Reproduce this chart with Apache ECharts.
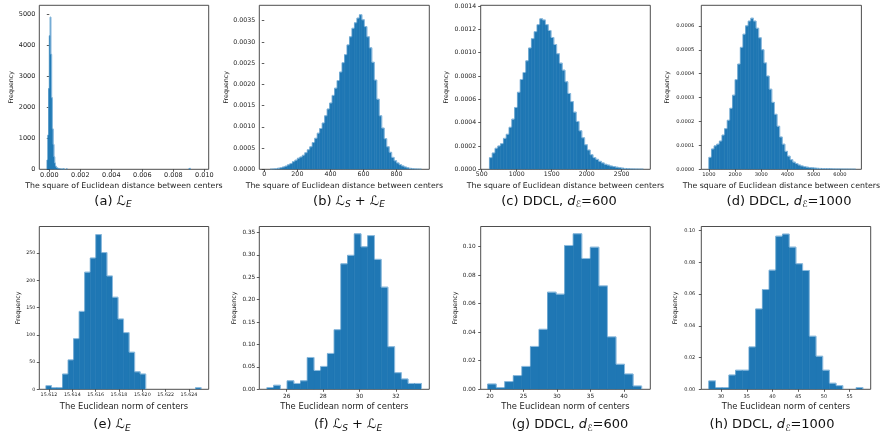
<!DOCTYPE html>
<html><head><meta charset="utf-8">
<script src="https://cdn.jsdelivr.net/npm/echarts@6/dist/echarts.min.js"></script>
<style>html,body{margin:0;padding:0;background:#fff}#c{width:882px;height:441px}</style>
</head><body><div id="c"></div>
<script>
// ---------- DATA ----------
// (a) L_E : squared distance between centers, counts
const aStart = -0.00015, aWidth = 0.00005;
const aCounts = [300,1100,2600,4300,4900,3700,2300,1300,800,400,200,100,60,40,30,20,15,10,8,6,5,4,3];
const aOutliers = [[0.00090,0.00095,15],[0.00110,0.00115,20],[0.00900,0.00905,20],[0.00905,0.00910,30]];
const aXTicks = [0,0.002,0.004,0.006,0.008,0.010];
const aYTicks = [0,1000,2000,3000,4000,5000];

// (b) L_S + L_E : density (x1e-4)
const bStart = 20, bWidth = 15;
const bDensityE4 = [0.0,0.01,0.05,0.15,0.25,0.38,0.55,0.75,1.05,1.35,1.8,2.15,2.6,2.9,3.3,3.9,4.6,5.3,6.3,7.3,8.5,9.6,10.9,12.6,14.2,15.6,17.4,19.1,20.9,22.9,25.1,27.0,29.3,31.2,33.2,34.5,35.6,36.4,35.2,33.6,31.2,28.6,25.2,21.0,16.5,12.6,9.7,7.2,5.3,4.0,2.8,2.0,1.5,1.1,0.8,0.55,0.35,0.22,0.12,0.06,0.03,0.01];
const bXTicks = [0,200,400,600,800];
const bYTicks = [0,0.0005,0.0010,0.0015,0.0020,0.0025,0.0030,0.0035];

// (c) DDCL d=600 : density (x1e-4)
const cStart = 610, cWidth = 40;
const cDensityE4 = [1.0,1.4,1.8,2.0,2.2,2.65,3.0,3.6,4.3,5.3,6.6,7.7,8.3,9.3,10.4,11.2,11.8,12.4,12.9,12.8,12.4,11.9,11.3,10.7,9.9,9.1,8.5,7.5,6.5,5.8,4.9,4.1,3.3,2.7,2.1,1.65,1.25,1.0,0.85,0.68,0.55,0.43,0.36,0.28,0.23,0.18,0.14,0.1,0.07,0.05,0.03,0.02,0.01,0.005,0.005];
const cXTicks = [500,1000,1500,2000,2500];
const cYTicks = [0,0.0002,0.0004,0.0006,0.0008,0.0010,0.0012,0.0014];

// (d) DDCL d=1000 : density (x1e-4)
const dStart = 1000, dWidth = 100;
const dDensityE4 = [0.5,0.85,0.98,1.05,1.18,1.43,1.7,2.05,2.55,3.1,3.75,4.4,5.1,5.65,6.0,6.2,6.32,6.2,5.9,5.5,5.0,4.45,3.9,3.35,2.8,2.3,1.8,1.35,1.05,0.75,0.55,0.4,0.3,0.24,0.18,0.14,0.11,0.09,0.07,0.06,0.05,0.04,0.035,0.03,0.025,0.02,0.02,0.015,0.01,0.01,0.008,0.006,0.004,0.003,0.002,0.001];
const dXTicks = [1000,2000,3000,4000,5000,6000];
const dYTicks = [0,0.0001,0.0002,0.0003,0.0004,0.0005,0.0006];

// (e) L_E : Euclidean norm, counts
const eStart = 15.61174, eWidth = 0.000475;
const eCounts = [6.7,3,3,28,54,93,143,215,241,284,251,208,169,129,104,68,32,28,0,0,0,0,0,0,0,0,0,3];
const eXTicks = [15.612,15.614,15.616,15.618,15.620,15.622,15.624];
const eYTicks = [0,50,100,150,200,250];

// (f) L_S + L_E : Euclidean norm, density
const fStart = 24.92, fWidth = 0.3687;
const fDensity = [0.004,0.009,0,0.019,0.013,0.019,0.071,0.042,0.051,0.080,0.133,0.280,0.299,0.347,0.318,0.343,0.290,0.228,0.095,0.037,0.023,0.013,0.013];
const fXTicks = [26,28,30,32];
const fYTicks = [0,0.05,0.10,0.15,0.20,0.25,0.30,0.35];

// (g) DDCL d=600 : Euclidean norm, density
const gStart = 19.65, gWidth = 1.277;
const gDensity = [0.0037,0.0012,0.0054,0.0096,0.016,0.030,0.042,0.068,0.0666,0.1007,0.1089,0.0916,0.0995,0.0724,0.0367,0.0175,0.0107,0.0023];
const gXTicks = [20,25,30,35,40];
const gYTicks = [0,0.02,0.04,0.06,0.08,0.10];

// (h) DDCL d=1000 : Euclidean norm, density
const hStart = 27.61, hWidth = 1.303;
const hDensity = [0.0053,0.0011,0.0011,0.009,0.012,0.012,0.0267,0.0506,0.0628,0.075,0.0964,0.0977,0.0895,0.079,0.0748,0.0334,0.0208,0.012,0.0038,0.0023,0,0,0.0011];
const hXTicks = [30,35,40,45,50,55];
const hYTicks = [0,0.02,0.04,0.06,0.08,0.10];

const topXName = 'The square of Euclidean distance between centers';
const botXName = 'The Euclidean norm of centers';
const yName = 'Frequency';

// ---------- BUILD ----------
function bins(start, width, vals, scale) {
  scale = scale || 1;
  return vals.map((v, i) => [start + i * width, start + (i + 1) * width, v * scale]);
}
const FONT = 'DejaVu Sans';
const BAR = '#1f77b4', EDGE = '#9fc7e6';
const panels = [
  {g:[39.3,5.3,169.4,164], x:[-0.000645,0.01028], yMax:5280, xt:aXTicks, yt:aYTicks, xd:3, yd:0, xn:topXName, data:bins(aStart,aWidth,aCounts).concat(aOutliers), tf:6.5, xng:12.5, yng:25, xm:2.5, ym:4},
  {g:[259.3,5.3,170,164], x:[-30.2,997.6], yMax:0.003862, xt:bXTicks, yt:bYTicks, xd:0, yd:4, xn:topXName, data:bins(bStart,bWidth,bDensityE4,1e-4), tf:6.3, xng:12.5, yng:30, xm:2.5, ym:4},
  {g:[480.7,5.3,169.6,164], x:[485,2909], yMax:0.001406, xt:cXTicks, yt:cYTicks, xd:0, yd:4, xn:topXName, data:bins(cStart,cWidth,cDensityE4,1e-4), tf:6.2, xng:12.5, yng:31.5, xm:2.5, ym:4.5},
  {g:[701.3,5.3,169.4,164], x:[711,6818], yMax:0.000686, xt:dXTicks, yt:dYTicks, xd:0, yd:4, xn:topXName, data:bins(dStart,dWidth,dDensityE4,1e-4), tf:5.2, xng:12.5, yng:31, xm:2.5, ym:7},
  {g:[39.3,226.5,169.4,162.8], x:[15.61117,15.62569], yMax:298.9, xt:eXTicks, yt:eYTicks, xd:3, yd:0, xn:botXName, data:bins(eStart,eWidth,eCounts), tf:4.8, xng:13.5, yng:18, xm:3, ym:4},
  {g:[259.3,226.5,170,162.8], x:[24.50,33.83], yMax:0.3634, xt:fXTicks, yt:fYTicks, xd:0, yd:2, xn:botXName, data:bins(fStart,fWidth,fDensity), tf:5.8, xng:13.5, yng:22, xm:4, ym:4},
  {g:[480.7,226.5,169.6,162.8], x:[18.61,43.93], yMax:0.114, xt:gXTicks, yt:gYTicks, xd:0, yd:2, xn:botXName, data:bins(gStart,gWidth,gDensity), tf:5.8, xng:13.5, yng:22.5, xm:4.5, ym:5},
  {g:[701.3,226.5,169.4,162.8], x:[26.15,59.1], yMax:0.1025, xt:hXTicks, yt:hYTicks, xd:0, yd:2, xn:botXName, data:bins(hStart,hWidth,hDensity), tf:5.0, xng:13.5, yng:23, xm:4.5, ym:6}
];

const captions = [
  {x:113, y:201.5, t:'(a) {L|ℒ}{s|E}'},
  {x:349, y:201.5, t:'(b) {L|ℒ}{s|S} + {L|ℒ}{s|E}'},
  {x:559, y:201.5, t:'(c) DDCL, {i|d}{s|ℰ}=600'},
  {x:789, y:201.5, t:'(d) DDCL, {i|d}{s|ℰ}=1000'},
  {x:112, y:425, t:'(e) {L|ℒ}{s|E}'},
  {x:348, y:425, t:'(f) {L|ℒ}{s|S} + {L|ℒ}{s|E}'},
  {x:570, y:425, t:'(g) DDCL, {i|d}{s|ℰ}=600'},
  {x:772, y:425, t:'(h) DDCL, {i|d}{s|ℰ}=1000'}
];

function makeRender(data) {
  return function (params, api) {
    const idx = params.dataIndex;
    const x0 = api.value(0), x1 = api.value(1), y = api.value(2);
    if (!(y > 0)) return null;
    const p0 = api.coord([x0, y]);
    const p1 = api.coord([x1, 0]);
    const prev = data[idx - 1], next = data[idx + 1];
    const hPrev = (prev && Math.abs(prev[1] - x0) < 1e-9) ? prev[2] : 0;
    const hNext = (next && Math.abs(next[0] - x1) < 1e-9) ? next[2] : 0;
    const children = [
      {type:'rect', shape:{x:p0[0], y:p0[1], width:p1[0]-p0[0], height:p1[1]-p0[1]}, style:{fill:BAR, stroke:BAR, lineWidth:0.6}},
      {type:'line', shape:{x1:p0[0], y1:p0[1], x2:p1[0], y2:p0[1]}, style:{stroke:EDGE, lineWidth:0.8}}
    ];
    if (y > hPrev) {
      const yb = api.coord([x0, hPrev])[1];
      children.push({type:'line', shape:{x1:p0[0], y1:p0[1], x2:p0[0], y2:yb}, style:{stroke:EDGE, lineWidth:0.6, opacity:0.6}});
    }
    if (y > hNext) {
      const yb = api.coord([x1, hNext])[1];
      children.push({type:'line', shape:{x1:p1[0], y1:p0[1], x2:p1[0], y2:yb}, style:{stroke:EDGE, lineWidth:0.8}});
    }
    return {type:'group', children:children};
  };
}

const grids = [], xAxes = [], yAxes = [], series = [];
panels.forEach((p, i) => {
  grids.push({left:p.g[0], top:p.g[1], width:p.g[2], height:p.g[3], show:true, borderColor:'#3a3a3a', borderWidth:0.9, backgroundColor:'transparent'});
  xAxes.push({type:'value', gridIndex:i, min:p.x[0], max:p.x[1],
    name:p.xn, nameLocation:'middle', nameGap:p.xng,
    nameTextStyle:{fontFamily:FONT, fontSize: i<4 ? 7.8 : 8.4, color:'#222'},
    axisLine:{show:false}, splitLine:{show:false},
    axisTick:{show:true, length:2.5, lineStyle:{color:'#333', width:0.8}, customValues:p.xt},
    axisLabel:{show:true, margin:p.xm, fontFamily:FONT, fontSize:p.tf, color:'#222', customValues:p.xt, formatter:v=>Number(v).toFixed(p.xd)}
  });
  yAxes.push({type:'value', gridIndex:i, min:0, max:p.yMax,
    name:yName, nameLocation:'middle', nameGap:p.yng,
    nameTextStyle:{fontFamily:FONT, fontSize:6.3, color:'#222'},
    axisLine:{show:false}, splitLine:{show:false},
    axisTick:{show:true, length:2.5, lineStyle:{color:'#333', width:0.8}, customValues:p.yt},
    axisLabel:{show:true, margin:p.ym, fontFamily:FONT, fontSize:p.tf, color:'#222', customValues:p.yt, formatter:v=>Number(v).toFixed(p.yd)}
  });
  series.push({type:'custom', xAxisIndex:i, yAxisIndex:i, data:p.data, encode:{x:[0,1], y:2}, renderItem:makeRender(p.data), clip:true, silent:true});
});

const rich = {
  L:{fontFamily:FONT, fontSize:13, fontStyle:'italic', color:'#111'},
  i:{fontFamily:FONT, fontSize:13, fontStyle:'italic', color:'#111'},
  s:{fontFamily:FONT, fontSize:9, fontStyle:'italic', color:'#111', verticalAlign:'bottom', lineHeight:5}
};
const graphic = captions.map(c => ({type:'text', x:c.x, y:c.y, silent:true,
  style:{text:c.t, fontFamily:FONT, fontSize:13, fill:'#111', align:'center', verticalAlign:'middle', lineHeight:16, rich:rich}}));

const chart = echarts.init(document.getElementById('c'), null, {renderer:'canvas'});
chart.setOption({animation:false, backgroundColor:'#fff', grid:grids, xAxis:xAxes, yAxis:yAxes, series:series, graphic:graphic});
</script></body></html>
